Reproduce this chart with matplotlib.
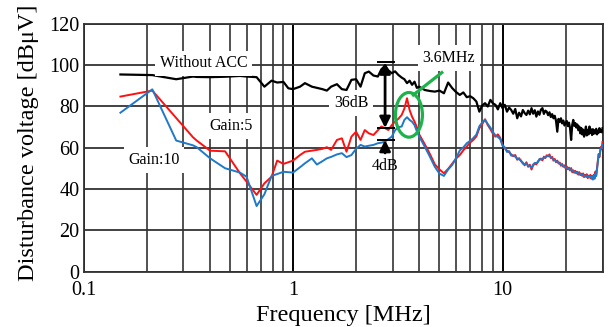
import numpy as np
import matplotlib.pyplot as plt
from matplotlib.patches import Ellipse

plt.rcParams['font.family'] = ['Liberation Serif', 'DejaVu Serif']

# frequency sweep [MHz], shared by the three traces
freq = [0.15, 0.213, 0.277, 0.333, 0.347, 0.402, 0.474, 0.558, 0.6, 0.67,
        0.73, 0.79, 0.84, 0.9, 0.95, 1.0, 1.08, 1.14, 1.23, 1.3,
        1.38, 1.45, 1.52, 1.62, 1.71, 1.8, 1.9, 2.0, 2.1, 2.2,
        2.3, 2.42, 2.54, 2.64, 2.75, 2.85, 2.96, 3.07, 3.18, 3.3,
        3.4, 3.5, 3.6, 3.7, 3.8, 3.9,
        4.0, 4.25, 4.5, 4.75, 5.0, 5.25, 5.5, 5.75, 6.0, 6.25,
        6.5, 6.75, 7.0, 7.25, 7.5, 7.75, 8.0, 8.25, 8.5, 8.75,
        9.0, 9.25, 9.5, 9.75, 10.0, 10.25, 10.5, 10.75, 11.0, 11.25,
        11.5, 11.75, 12.0, 12.25, 12.5, 12.75, 13.0, 13.25, 13.5, 13.75,
        14.0, 14.25, 14.5, 14.75, 15.0, 15.25, 15.5, 15.75, 16.0, 16.25,
        16.5, 16.75, 17.0, 17.25, 17.5, 17.75, 18.0, 18.25, 18.5, 18.75,
        19.0, 19.25, 19.5, 19.75, 20.0, 20.25, 20.5, 20.75, 21.0, 21.25,
        21.5, 21.75, 22.0, 22.25, 22.5, 22.75, 23.0, 23.25, 23.5, 23.75,
        24.0, 24.25, 24.5, 24.75, 25.0, 25.25, 25.5, 25.75, 26.0, 26.25,
        26.5, 26.75, 27.0, 27.25, 27.5, 27.75, 28.0, 28.25, 28.5, 28.75,
        29.0, 29.25, 29.5, 29.75, 30.0]

without_acc = [95.5, 95.2, 93.2, 94.5, 94.3, 94.2, 94.4, 94.8, 94.5, 94.2,
               89.6, 92.5, 91.6, 91.9, 88.8, 88.4, 89.6, 91.3, 89.6, 89.0,
               88.4, 87.7, 89.6, 90.8, 88.4, 88.0, 92.9, 93.2, 89.6, 96.1,
               96.9, 95.0, 94.5, 98.0, 99.7, 97.5, 96.1, 97.0, 95.3, 94.0,
               93.2, 91.3, 92.5, 90.5, 92.0, 89.0,
               89.6, 88.0, 87.5, 87.2, 87.7, 86.4, 91.6, 88.9, 87.0, 85.6,
               86.8, 84.5, 85.0, 84.0, 82.4, 77.5, 80.5, 81.6, 80.0, 83.2,
               81.5, 80.8, 78.6, 81.6, 79.2, 80.8, 77.5, 79.5, 78.3, 76.5,
               78.8, 74.3, 77.0, 75.2, 78.3, 76.8, 75.9, 78.0, 76.2, 79.2,
               76.5, 78.2, 75.1, 77.6, 76.0, 78.5, 79.2, 76.4, 78.0, 77.5,
               75.8, 77.2, 74.9, 76.3, 74.3, 75.5, 73.0, 67.8, 74.0, 72.5,
               74.3, 71.8, 73.2, 70.8, 71.9, 73.0, 70.5, 72.2, 69.5, 63.8,
               71.0, 73.5, 70.6, 72.0, 69.8, 71.3, 68.5, 70.3, 67.0, 69.6,
               66.5, 68.8, 65.4, 67.5, 70.3, 66.0, 68.7, 66.5, 70.3, 67.2,
               68.9, 66.2, 69.0, 66.8, 68.5, 67.0, 69.2, 66.5, 68.0, 67.3,
               69.5, 67.8, 68.6, 67.5, 69.5]

gain5 = [84.8, 87.7, 74.4, 65.1, 63.5, 58.6, 58.3, 47.7, 43.6, 37.2,
         42.8, 46.0, 53.8, 52.2, 53.0, 53.8, 56.5, 58.1, 58.6, 59.0,
         59.5, 60.3, 59.0, 63.8, 64.6, 58.1, 65.4, 67.8, 63.8, 68.6,
         67.0, 66.2, 68.5, 70.3, 69.5, 68.6, 71.0, 72.7, 74.0, 75.9,
         79.0, 84.0, 78.3, 75.0, 72.7, 70.0,
         66.5, 61.8, 57.0, 52.0, 49.5, 47.7, 49.8, 52.3, 54.8, 56.5,
         58.8, 60.6, 62.5, 63.8, 65.5, 69.5, 71.5, 73.8, 71.0, 69.0,
         66.8, 65.4, 66.5, 64.8, 61.5, 59.8, 58.6, 57.9, 56.8, 55.9,
         56.5, 54.2, 55.0, 53.5, 52.8, 51.5, 53.0, 50.8, 51.8, 49.5,
         51.5, 52.3, 52.0, 53.4, 54.2, 54.8, 53.9, 55.7, 55.0, 56.4,
         55.8, 56.8, 55.0, 55.6, 53.8, 54.6, 53.0, 53.8, 52.4, 52.9,
         51.3, 52.2, 50.8, 51.5, 50.0, 51.0, 49.6, 50.4, 49.0, 50.2,
         48.2, 49.1, 47.9, 48.8, 47.6, 48.4, 47.0, 48.2, 46.8, 47.5,
         46.4, 47.6, 45.8, 46.9, 46.0, 47.2, 45.3, 46.5, 45.6, 46.9,
         45.0, 46.2, 45.4, 47.0, 45.8, 48.5, 47.0, 50.5, 54.0, 57.0,
         55.5, 58.5, 60.5, 59.5, 62.8]

gain10 = [77.0, 88.3, 63.5, 61.2, 60.3, 54.9, 50.1, 48.0, 46.0, 31.8,
          37.5, 46.4, 47.3, 48.4, 48.2, 48.0, 50.6, 52.5, 54.9, 51.9,
          53.5, 54.9, 55.6, 56.8, 57.4, 55.5, 56.5, 59.5, 61.4, 60.6,
          61.0, 61.4, 62.2, 62.5, 63.0, 64.2, 65.4, 68.5, 70.0, 70.3,
          73.5, 74.8, 73.5, 72.6, 71.0, 68.0,
          65.5, 60.6, 55.7, 50.8, 47.5, 46.4, 49.5, 51.7, 55.0, 58.7,
          60.2, 62.2, 63.3, 64.7, 66.4, 70.4, 72.3, 73.6, 71.5, 69.8,
          67.6, 66.0, 65.2, 64.2, 61.0, 60.2, 58.0, 58.4, 56.2, 56.4,
          55.7, 54.8, 54.4, 53.9, 52.3, 52.1, 52.4, 51.3, 51.2, 50.3,
          51.9, 52.7, 52.6, 53.0, 54.6, 54.3, 54.5, 55.2, 55.5, 55.9,
          56.3, 56.0, 55.4, 55.0, 54.3, 54.0, 53.5, 53.2, 52.8, 52.3,
          51.8, 51.7, 51.2, 50.9, 50.5, 50.4, 50.0, 49.8, 49.5, 49.5,
          48.8, 48.6, 48.4, 48.2, 48.0, 47.9, 47.5, 47.6, 47.2, 47.0,
          46.9, 47.0, 46.3, 46.4, 46.5, 46.6, 45.8, 46.0, 46.1, 46.2,
          45.4, 45.8, 44.6, 46.5, 45.0, 47.6, 46.3, 49.8, 53.2, 56.4,
          56.2, 58.0, 60.0, 59.8, 61.8]

yticks = [0, 20, 40, 60, 80, 100, 120]
xticks = [0.1, 1, 10]
xticklabels = ['0.1', '1', '10']

fig = plt.figure(figsize=(6.11, 3.27), dpi=100)
ax = fig.add_axes([0.1367, 0.169, 0.8494, 0.758])

ax.set_xscale('log')
ax.set_xlim(0.1, 30)
ax.set_ylim(0, 120)

# grid: every minor decade line plus the 20 dB lines
ax.grid(True, which='major', axis='x', color='black', lw=1.4)
ax.grid(True, which='minor', axis='x', color='#333333', lw=1.2)
ax.grid(True, which='major', axis='y', color='#333333', lw=1.3)
ax.set_axisbelow(True)

ax.plot(freq, without_acc, color='black', lw=1.6, zorder=3)
ax.plot(freq, gain5, color='#ff1010', lw=1.4, zorder=4)
ax.plot(freq, gain10, color='#1f78c8', lw=1.4, zorder=5)

ax.set_xticks(xticks)
ax.set_xticklabels(xticklabels)
ax.set_yticks(yticks)
ax.tick_params(axis='both', which='both', length=0, labelsize=14.5)
ax.tick_params(axis='x', pad=7)
ax.tick_params(axis='y', pad=3)
for s in ax.spines.values():
    s.set_color('#333333')
    s.set_linewidth(1.3)

ax.set_xlabel('Frequency [MHz]', fontsize=17.5)
ax.set_ylabel('Disturbance voltage [dBμV]', fontsize=17.5)
ax.xaxis.set_label_coords(0.5, -0.135)
ax.yaxis.set_label_coords(-0.086, 0.52)

box = dict(facecolor='white', edgecolor='none', boxstyle='square,pad=0.3')
ax.text(0.374, 100.9, 'Without ACC', fontsize=11.5, ha='center', va='center', bbox=box, zorder=6)
ax.text(0.506, 70.6, 'Gain:5', fontsize=11.5, ha='center', va='center', bbox=box, zorder=2)
ax.text(0.217, 54.1, 'Gain:10', fontsize=11.5, ha='center', va='center', bbox=box, zorder=2)
ax.text(1.9, 81.7, '36dB', fontsize=11.5, ha='center', va='center', bbox=box, zorder=2)
ax.text(2.75, 51.2, '4dB', fontsize=11.5, ha='center', va='center', zorder=6)
ax.text(5.55, 103.5, '3.6MHz', fontsize=11.5, ha='center', va='center', bbox=box, zorder=6)

# level-difference markers
ax.hlines([101.3, 69.6, 63.8], 2.51, 3.07, color='black', lw=1.4, zorder=7)
ax.annotate('', xy=(2.75, 101.3), xytext=(2.75, 69.6),
            arrowprops=dict(arrowstyle='<|-|>', color='black', lw=2, mutation_scale=16,
                            shrinkA=0, shrinkB=0), zorder=7)
ax.annotate('', xy=(2.75, 63.8), xytext=(2.75, 57.5),
            arrowprops=dict(arrowstyle='-|>', color='black', lw=2, mutation_scale=16,
                            shrinkA=0, shrinkB=0), zorder=7)

# 3.6 MHz resonance highlight
ax.add_patch(Ellipse((0.627, 0.633), 0.052, 0.18, transform=ax.transAxes,
                     fill=False, edgecolor='#1db34a', lw=2.3, zorder=8))
ax.plot([3.75, 5.13], [85.6, 96.4], color='#1db34a', lw=2.3, zorder=8)

fig.savefig('out.png', dpi=100)
